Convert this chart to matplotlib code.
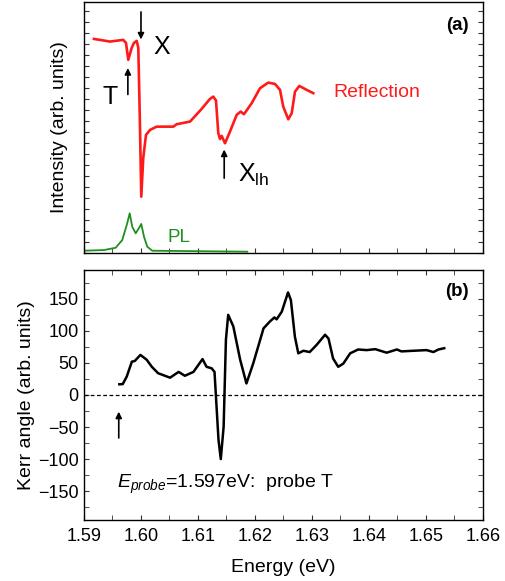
#!/usr/bin/env python3
"""
plot.py
Reflection / PL spectrum (a) and Kerr angle spectrum (b) versus energy
"""
import matplotlib
matplotlib.use('Agg')
import matplotlib.pyplot as plt
from matplotlib.ticker import MultipleLocator, NullFormatter

plt.rcParams['font.family'] = ['Liberation Sans', 'DejaVu Sans']
plt.rcParams['mathtext.fontset'] = 'custom'
plt.rcParams['mathtext.rm'] = 'Liberation Sans'
plt.rcParams['mathtext.it'] = 'Liberation Sans:italic'

# Panel (a): reflection spectrum (arb. units)
refl_energy = [1.59175, 1.59456, 1.59689, 1.59737, 1.59777, 1.59837, 1.59877,
               1.59925, 1.59953, 1.59982, 1.60005, 1.60040, 1.60088, 1.60158,
               1.60275, 1.60567, 1.60626, 1.60860, 1.61040, 1.61211, 1.61268,
               1.61316, 1.61356, 1.61386, 1.61416, 1.61474, 1.61561, 1.61679,
               1.61749, 1.61807, 1.61942, 1.62088, 1.62233, 1.62351, 1.62439,
               1.62496, 1.62584, 1.62644, 1.62702, 1.62777, 1.62907, 1.63023]
refl_value = [19.45, 19.21, 19.36, 19.09, 17.55, 18.64, 19.09,
              19.27, 18.64, 11.64, 5.12, 8.64, 10.73, 11.18,
              11.48, 11.48, 11.70, 11.94, 12.95, 14.00, 14.21,
              13.85, 10.91, 10.36, 10.64, 9.97, 11.03, 12.55,
              12.85, 12.61, 13.61, 14.97, 15.48, 15.36, 14.82,
              13.30, 12.15, 12.70, 14.66, 15.18, 14.82, 14.52]

# Panel (a): photoluminescence spectrum (arb. units)
pl_energy = [1.59000, 1.59351, 1.59556, 1.59672, 1.59760, 1.59802, 1.59847,
             1.59907, 1.59965, 1.60005, 1.60053, 1.60111, 1.60198, 1.61865]
pl_value = [0.21, 0.27, 0.48, 1.18, 2.73, 3.61, 2.39,
            1.79, 2.27, 2.64, 1.48, 0.57, 0.21, 0.12]

# Panel (b): Kerr angle (arb. units)
kerr_energy = [1.5962, 1.5968, 1.5975, 1.5984, 1.5989, 1.5999, 1.6010, 1.6019,
               1.6030, 1.6051, 1.6066, 1.6077, 1.6092, 1.6108, 1.6115, 1.6124,
               1.6129, 1.6136, 1.6140, 1.6145, 1.6149, 1.6153, 1.6162, 1.6174,
               1.6185, 1.6197, 1.6215, 1.6226, 1.6234, 1.6238, 1.6247, 1.6258,
               1.6263, 1.6270, 1.6276, 1.6285, 1.6296, 1.6308, 1.6323, 1.6329,
               1.6337, 1.6346, 1.6355, 1.6367, 1.6381, 1.6396, 1.6411, 1.6431,
               1.6449, 1.6457, 1.6478, 1.6501, 1.6513, 1.6522, 1.6532]
kerr_value = [16.7, 17, 28.7, 52, 53, 62.5, 55, 44,
              34, 27, 36, 30, 36, 56, 44, 41.6,
              36, -70, -100, -49.5, 86, 125, 107, 55,
              18, 49.5, 104, 114.5, 121, 118, 130, 160,
              148, 91, 65, 69, 67, 78, 94, 88,
              57, 44, 49, 65, 71, 70, 71.5, 66,
              71, 68, 69, 70, 67, 71, 73]

fig = plt.figure(figsize=(5.05, 5.81), dpi=100)
ax1 = fig.add_axes([0.1663, 0.5645, 0.7901, 0.4320])
ax2 = fig.add_axes([0.1663, 0.1050, 0.7901, 0.4303])

arrow = dict(arrowstyle='-|>', color='black', lw=1.2, mutation_scale=9,
             shrinkA=0, shrinkB=0)

# ---- panel (a)
ax1.plot(refl_energy, refl_value, color='#ff1a1a', lw=1.9)
ax1.plot(pl_energy, pl_value, color='#1f8f1f', lw=1.3)
ax1.set_xlim(1.59, 1.66)
ax1.set_ylim(0, 22.8)
ax1.xaxis.set_major_locator(MultipleLocator(0.01))
ax1.xaxis.set_minor_locator(MultipleLocator(0.005))
ax1.xaxis.set_major_formatter(NullFormatter())
ax1.yaxis.set_major_locator(MultipleLocator(1))
ax1.yaxis.set_major_formatter(NullFormatter())
ax1.tick_params(which='both', direction='in', right=True, top=False,
                length=3.5, color='#333333')
ax1.set_ylabel('Intensity (arb. units)', fontsize=14)
ax1.yaxis.set_label_coords(-0.04, 0.5)

ax1.annotate('', xy=(1.6000, 19.4), xytext=(1.6000, 21.9), arrowprops=arrow)
ax1.annotate('', xy=(1.5977, 16.8), xytext=(1.5977, 14.4), arrowprops=arrow)
ax1.annotate('', xy=(1.6146, 9.4), xytext=(1.6146, 6.8), arrowprops=arrow)
ax1.text(1.6022, 18.7, 'X', fontsize=18, ha='left', va='center')
ax1.text(1.5946, 14.2, 'T', fontsize=18, ha='center', va='center')
ax1.text(1.6170, 7.1, r'X$_{\mathrm{lh}}$', fontsize=18, ha='left',
         va='center')
ax1.text(1.6337, 14.6, 'Reflection', fontsize=14, color='#ff1a1a',
         ha='left', va='center')
ax1.text(1.6047, 1.4, 'PL', fontsize=13.5, color='#1f8f1f',
         ha='left', va='center')
ax1.text(0.935, 0.908, '(a)', transform=ax1.transAxes, fontsize=13.5,
         fontweight='bold', ha='center', va='center')

# ---- panel (b)
ax2.plot(kerr_energy, kerr_value, color='black', lw=1.8)
ax2.axhline(0, color='black', lw=0.9, ls=(0, (3, 2)))
ax2.set_xlim(1.59, 1.66)
ax2.set_ylim(-195, 195)
ax2.xaxis.set_major_locator(MultipleLocator(0.01))
ax2.xaxis.set_minor_locator(MultipleLocator(0.005))
ax2.yaxis.set_major_locator(MultipleLocator(50))
ax2.yaxis.set_minor_locator(MultipleLocator(25))
ax2.xaxis.set_major_formatter(plt.FuncFormatter(lambda v, p: f'{v:.2f}'))
ax2.tick_params(which='both', direction='in', right=True, top=True,
                labelsize=13, length=3.5, color='#333333', pad=6)
ax2.tick_params(axis='y', pad=4)
ax2.set_ylabel('Kerr angle (arb. units)', fontsize=14)
ax2.yaxis.set_label_coords(-0.122, 0.5)
ax2.set_xlabel('Energy (eV)', fontsize=14, labelpad=10)

ax2.annotate('', xy=(1.5961, -26), xytext=(1.5961, -67), arrowprops=arrow)
ax2.text(1.5958, -140, r'$E_{probe}$=1.597eV:  probe T', fontsize=14,
         ha='left', va='center')
ax2.text(0.935, 0.912, '(b)', transform=ax2.transAxes, fontsize=13.5,
         fontweight='bold', ha='center', va='center')

for ax in (ax1, ax2):
    for s in ax.spines.values():
        s.set_linewidth(1.0)

fig.savefig('out.png', dpi=100)
